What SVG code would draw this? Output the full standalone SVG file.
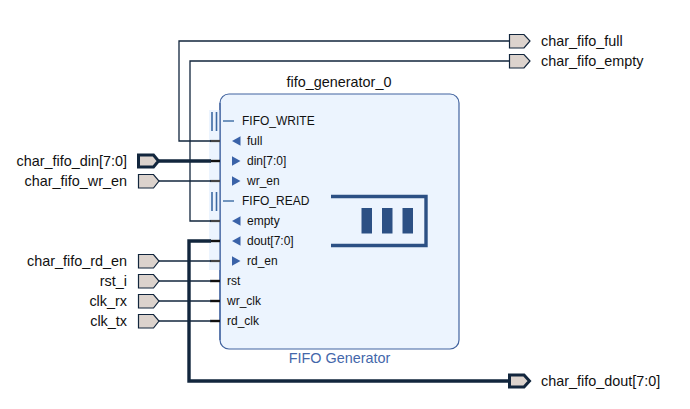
<svg xmlns="http://www.w3.org/2000/svg" width="690" height="409" viewBox="0 0 690 409">
<style>
text{font-family:"Liberation Sans",Arial,sans-serif;font-size:12px;fill:#111}
text.l{font-size:14.4px}
.w{fill:none;stroke:#12263d;stroke-width:1.3}
.b{fill:none;stroke:#12263d;stroke-width:3.4}
.p{fill:#dcd3cd;stroke:#12263d;stroke-width:1.2}
.pb{fill:#dcd3cd;stroke:#12263d;stroke-width:3}
.s{stroke:#111;stroke-width:2.4}
.sg{stroke:#444;stroke-width:2.2}
.t{fill:#3a62a8}
.bar{fill:none;stroke:#3c6aa3;stroke-width:1.6}
.dash{stroke:#3c6aa3;stroke-width:1.4}
.i{fill:#2c5084}
</style>
<g id="fifo_generator_0">
<rect x="220" y="94" width="239" height="255" rx="9" fill="#ecf4fe" stroke="#41639f" stroke-width="1.2"/>
<rect x="209" y="110" width="11" height="160" fill="#ecf4fe"/>
<path d="M220 103V340" stroke="#41639f" stroke-width="1.2"/>
<text class="l" x="339" y="87" text-anchor="middle">fifo_generator_0</text>
<text class="l" x="339.500" y="363" text-anchor="middle" style="fill:#4467aa">FIFO Generator</text>
<g id="pin_FIFO_WRITE"><path class="bar" d="M212 112V131M216.500 112V131"/><path class="dash" d="M223 121H234"/><text x="242" y="125">FIFO_WRITE</text></g>
<g id="pin_full"><path class="sg" d="M210 141H220"/><polygon class="t" points="240.500,136.300 240.500,145.700 232,141"/><text x="247" y="145">full</text></g>
<g id="pin_din"><path class="s" d="M210 161H220"/><polygon class="t" points="232,156.300 232,165.700 240.500,161"/><text x="247" y="165">din[7:0]</text></g>
<g id="pin_wr_en"><path class="sg" d="M210 181H220"/><polygon class="t" points="232,176.300 232,185.700 240.500,181"/><text x="247" y="185">wr_en</text></g>
<g id="pin_FIFO_READ"><path class="bar" d="M212 192V211M216.500 192V211"/><path class="dash" d="M223 201H234"/><text x="242" y="205">FIFO_READ</text></g>
<g id="pin_empty"><path class="sg" d="M210 221H220"/><polygon class="t" points="240.500,216.300 240.500,225.700 232,221"/><text x="247" y="225">empty</text></g>
<g id="pin_dout"><path class="s" d="M210 241H220"/><polygon class="t" points="240.500,236.300 240.500,245.700 232,241"/><text x="247" y="245">dout[7:0]</text></g>
<g id="pin_rd_en"><path class="sg" d="M210 261H220"/><polygon class="t" points="232,256.300 232,265.700 240.500,261"/><text x="247" y="265">rd_en</text></g>
<g id="pin_rst"><path class="s" d="M210 281H220"/><text x="227" y="285">rst</text></g>
<g id="pin_wr_clk"><path class="s" d="M210 301H220"/><text x="227" y="305">wr_clk</text></g>
<g id="pin_rd_clk"><path class="s" d="M210 321H220"/><text x="227" y="325">rd_clk</text></g>
<g id="fifo_icon">
<path d="M331 196.500H426V245.500H331" fill="none" stroke="#2c5084" stroke-width="3.4"/>
<rect class="i" x="361.500" y="208" width="10.500" height="25.500"/>
<rect class="i" x="382" y="208" width="10.500" height="25.500"/>
<rect class="i" x="402.500" y="208" width="10.500" height="25.500"/>
</g>
</g>
<g id="connectors">
<path class="w" d="M509 41H179V141H211"/>
<path class="w" d="M509 61H190V221H211"/>
<path class="b" d="M159 161H211"/>
<path class="w" d="M159 181H211"/>
<path class="b" d="M211 241H189V381H509"/>
<path class="w" d="M159 261H211"/>
<path class="w" d="M159 281H211"/>
<path class="w" d="M159 301H211"/>
<path class="w" d="M159 321H211"/>
</g>
<g id="char_fifo_din"><polygon class="pb" points="138.500,155 153.500,155 158.500,161 153.500,167 138.500,167"/><text class="l" x="127" y="166" text-anchor="end">char_fifo_din[7:0]</text></g>
<g id="char_fifo_wr_en"><polygon class="p" points="138.500,174.500 153.500,174.500 159,181 153.500,188 138.500,188"/><text class="l" x="127" y="186" text-anchor="end">char_fifo_wr_en</text></g>
<g id="char_fifo_rd_en"><polygon class="p" points="138.500,254.500 153.500,254.500 159,261 153.500,268 138.500,268"/><text class="l" x="127" y="266" text-anchor="end">char_fifo_rd_en</text></g>
<g id="rst_i"><polygon class="p" points="138.500,274.500 153.500,274.500 159,281 153.500,288 138.500,288"/><text class="l" x="127" y="286" text-anchor="end">rst_i</text></g>
<g id="clk_rx"><polygon class="p" points="138.500,294.500 153.500,294.500 159,301 153.500,308 138.500,308"/><text class="l" x="127" y="306" text-anchor="end">clk_rx</text></g>
<g id="clk_tx"><polygon class="p" points="138.500,314.500 153.500,314.500 159,321 153.500,328 138.500,328"/><text class="l" x="127" y="326" text-anchor="end">clk_tx</text></g>
<g id="char_fifo_full"><polygon class="p" points="509.500,34.500 524,34.500 530,41 524,48 509.500,48"/><text class="l" x="541" y="46">char_fifo_full</text></g>
<g id="char_fifo_empty"><polygon class="p" points="509.500,54.500 524,54.500 530,61 524,68 509.500,68"/><text class="l" x="541" y="66">char_fifo_empty</text></g>
<g id="char_fifo_dout"><polygon class="pb" points="509.500,375 524,375 529.500,381 524,387 509.500,387"/><text class="l" x="541" y="386">char_fifo_dout[7:0]</text></g>
</svg>
